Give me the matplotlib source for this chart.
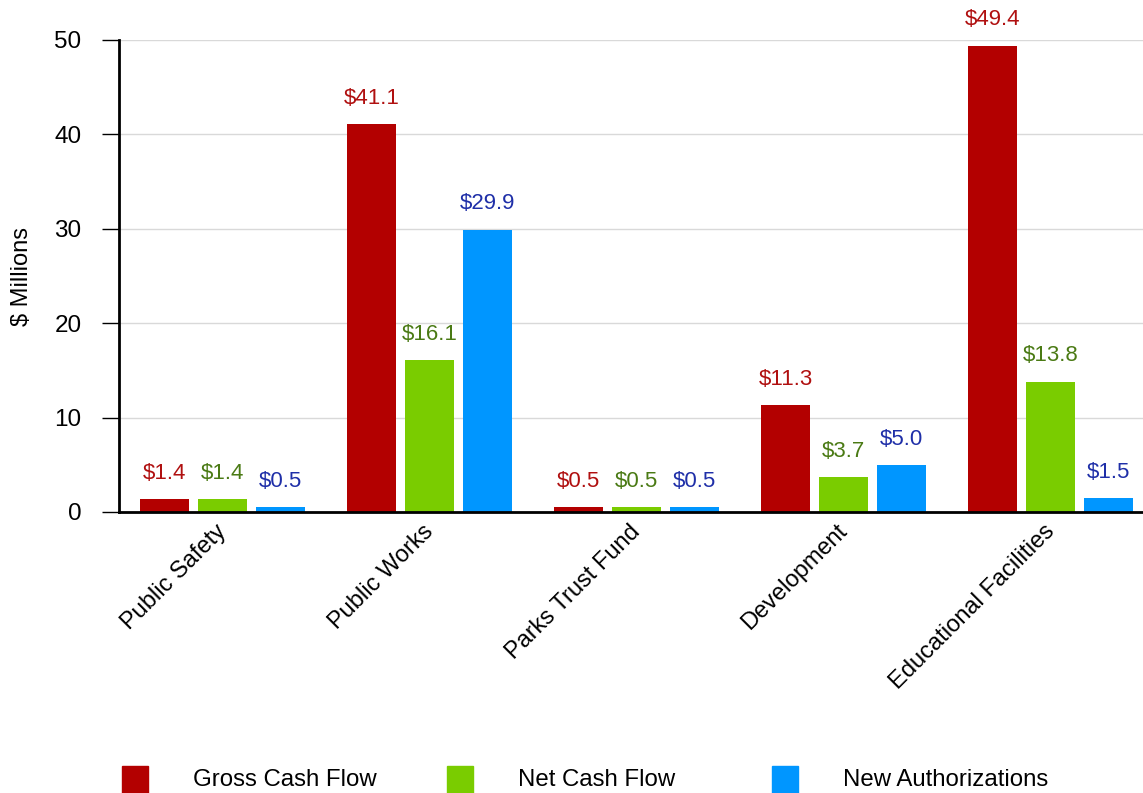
import matplotlib
matplotlib.use("Agg")
import matplotlib.pyplot as plt
import matplotlib.transforms as mtransforms
from matplotlib.patches import Rectangle
import numpy as np

plt.rcParams['font.family'] = ['Liberation Sans', 'DejaVu Sans']

categories = ["Public Safety", "Public Works", "Parks Trust Fund", "Development", "Educational Facilities"]
series_names = ["Gross Cash Flow", "Net Cash Flow", "New Authorizations"]
gross = [1.4, 41.1, 0.5, 11.3, 49.4]
net = [1.4, 16.1, 0.5, 3.7, 13.8]
new_auth = [0.5, 29.9, 0.5, 5.0, 1.5]

bar_colors = ["#b30000", "#7acc00", "#0096ff"]
label_colors = ["#b01010", "#4a7a14", "#1f2fa8"]

fig = plt.figure(figsize=(11.43, 7.93), dpi=100)
ax = fig.add_axes([119/1143, 1-512/793, 1-119/1143, (512-40)/793])

x = np.arange(len(categories))
width = 0.237
offset = 0.28
for i, (vals, name) in enumerate(zip([gross, net, new_auth], series_names)):
    xs = x + (i-1)*offset
    ax.bar(xs, vals, width, color=bar_colors[i], zorder=3)
    for xi, v in zip(xs, vals):
        ax.annotate("$%.1f" % v, (xi, v), xytext=(0, 11), textcoords="offset points",
                    ha="center", va="bottom", fontsize=16, color=label_colors[i],
                    annotation_clip=False)

ax.set_xlim(-0.5, 4.447)
ax.set_ylim(0, 50)
ax.set_yticks([0, 10, 20, 30, 40, 50])
ax.tick_params(axis='y', labelsize=17.5, length=12, width=1, pad=15)
ax.set_xticks(x)
ax.set_xticklabels(categories, rotation=45, ha="right", va="top",
                   rotation_mode="anchor", fontsize=17)
ax.tick_params(axis='x', length=0, pad=6)
shift = mtransforms.ScaledTranslation(-0.07, 0, fig.dpi_scale_trans)
for lbl in ax.get_xticklabels():
    lbl.set_transform(lbl.get_transform() + shift)
ax.grid(axis='y', color="#d9d9d9", linewidth=1, zorder=0)
ax.set_axisbelow(True)
for s in ["top", "right"]:
    ax.spines[s].set_visible(False)
ax.spines["left"].set_linewidth(2)
ax.spines["bottom"].set_linewidth(2)
ax.spines["bottom"].set_zorder(4)
ax.set_ylabel("$ Millions", fontsize=17)
ax.yaxis.set_label_coords((33-119)/1024, 0.5)

# legend along the bottom edge
leg_x = [122, 447, 772]
for i, name in enumerate(series_names):
    fig.patches.append(Rectangle((leg_x[i]/1143, 0), 26/1143, 27/793,
                                 transform=fig.transFigure, color=bar_colors[i]))
    fig.text((leg_x[i]+71)/1143, 1-780/793, name, fontsize=17.25, va="center", ha="left")

plt.savefig("out.png", dpi=100)
